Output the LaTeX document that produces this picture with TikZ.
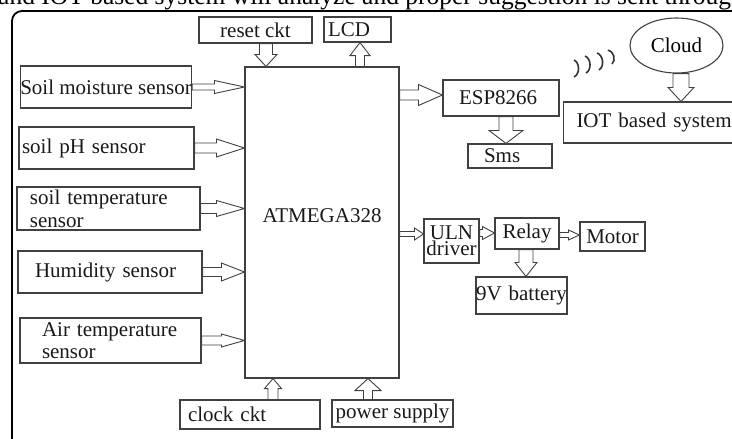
\documentclass[tikz,border=0pt]{standalone}
\usepackage{fontspec}
\setmainfont{Liberation Serif}
\usepackage{tikz}
\usetikzlibrary{positioning,calc,shapes.geometric}

% hollow block arrow: from, to, shaft half width, head half width, head length
\newcommand{\blk}[5]{%
  \coordinate (bs) at (#1); \coordinate (bt) at (#2);
  \coordinate (bh) at ($(bt)!#5pt!(bs)$);
  \draw[arr] ($(bs)!#3pt!90:(bt)$) -- ($(bh)!#3pt!-90:(bs)$) -- ($(bh)!#4pt!-90:(bs)$)
    -- (bt) -- ($(bh)!#4pt!90:(bs)$) -- ($(bh)!#3pt!90:(bs)$) -- ($(bs)!#3pt!-90:(bt)$) -- cycle;}

\begin{document}
\begin{tikzpicture}[x=1pt,y=-1pt,every node/.style={font=\fontsize{21}{22}\selectfont}]
      \tikzstyle{b}=[rectangle,draw=black!75,line width=1.1pt,inner sep=0pt,text=black!90];
      \tikzstyle{arr}=[draw=black!75,line width=0.9pt,fill=white];
      \tikzstyle{wave}=[black!80,line width=1.6pt];
      \path[use as bounding box,clip] (0,0) rectangle (732,439);
      % cut-off caption line and frame
      \node[anchor=base west,inner sep=0pt,font=\fontsize{25.5}{26}\selectfont] (cap) at (-2,5)
        {and IOT based system will analyze and proper suggestion is sent through};
      \draw[line width=1.8pt,rounded corners=10pt] (760,11) -- (12,11) -- (12,449) -- (760,449);
      % controller and its inputs
      \node[b,minimum width=154pt,minimum height=311pt] (mcu) at (322,222.5) {\raisebox{14pt}{ATMEGA328}};
      \node[b,minimum width=113pt,minimum height=26pt] (reset) at (255.5,30) {reset ckt};
      \node[b,minimum height=25pt,text width=59pt,inner xsep=4pt,align=left] (lcd) at (357.5,29.5) {LCD};
      \node[b,minimum width=166pt,minimum height=42pt] (smoist) at (106,87) {Soil moisture sensor};
      \node[b,minimum height=42pt,text width=169pt,inner xsep=3pt,align=left] (sph) at (106.5,148) {soil pH sensor};
      \node[b,minimum height=43pt,text width=157pt,inner xsep=13pt,align=left,
            font=\fontsize{21}{23}\selectfont] (stemp) at (108.5,208.5) {soil temperature\\sensor};
      \node[b,minimum height=42pt,text width=150pt,inner xsep=17pt,align=left] (humid) at (110,272) {Humidity sensor};
      \node[b,minimum height=45pt,text width=137pt,inner xsep=22pt,align=left,
            font=\fontsize{21}{22}\selectfont] (airt) at (110.5,340.5) {Air temperature\\sensor};
      \node[b,minimum height=29pt,text width=124pt,inner xsep=8pt,align=left] (clock) at (250,414.5) {clock ckt};
      \node[b,minimum width=121pt,minimum height=27pt] (power) at (392.5,413.5) {power supply};
      % outputs
      \node[b,minimum height=36pt,text width=84pt,inner xsep=16pt,align=left] (esp) at (501,98) {ESP8266};
      \node[b,minimum height=24pt,text width=52pt,inner xsep=16pt,align=left] (sms) at (510,156) {Sms};
      \node[ellipse,draw=black!75,line width=1.1pt,minimum width=93pt,minimum height=55pt,inner sep=0pt] (cloud) at (676.5,45.5) {Cloud};
      \node[b,minimum height=41pt,text width=145pt,inner xsep=13pt,align=left] (iot) at (649,122.5) {\mbox{IOT based system}};
      \node[b,minimum height=44pt,text width=55pt,align=center,
            font=\fontsize{21}{16}\selectfont] (uln) at (451.5,241) {ULN\\driver};
      \node[b,minimum width=64pt,minimum height=31pt] (relay) at (527,233.5) {Relay};
      \node[b,minimum width=65pt,minimum height=29pt] (motor) at (612.5,236.5) {Motor};
      \node[b,minimum height=37pt,text width=91pt,align=left] (batt) at (521.5,295.5) {9V battery};
      % wireless waves
      \draw[wave] (574,60) to[bend left=65] (574,77);
      \draw[wave] (585,56) to[bend left=65] (586,73);
      \draw[wave] (597,53) to[bend left=65] (599,70);
      \draw[wave] (608,50) to[bend left=65] (612,64);
      % block arrows
      \blk{smoist.east}{smoist.east -| mcu.west}{3}{6.5}{30}
      \blk{sph.east}{sph.east -| mcu.west}{5}{9}{28}
      \blk{stemp.east}{stemp.east -| mcu.west}{5}{8}{28}
      \blk{humid.east}{humid.east -| mcu.west}{4.5}{9}{23}
      \blk{airt.east}{airt.east -| mcu.west}{4.5}{6.5}{23}
      \coordinate (rs) at ([xshift=10.5pt]reset.south);
      \blk{rs}{rs |- mcu.north}{6.5}{11}{12}
      \coordinate (ls) at ([xshift=2.5pt]lcd.south);
      \blk{ls |- mcu.north}{ls}{4.5}{10}{13}
      \coordinate (cn) at ([xshift=23pt]clock.north);
      \blk{cn}{cn |- mcu.south}{5}{8.5}{10}
      \coordinate (pn) at ([xshift=-24.5pt]power.north);
      \blk{pn}{pn |- mcu.south}{4.5}{13}{12}
      \coordinate (ew) at ([yshift=3pt]esp.west);
      \blk{ew -| mcu.east}{ew}{5}{10.5}{24}
      \coordinate (es) at ([xshift=5pt]esp.south);
      \blk{es}{es |- sms.north}{7}{17}{13}
      \coordinate (cs) at ([xshift=4.5pt]cloud.south);
      \blk{cs}{cs |- iot.north}{8}{13}{14}
      \coordinate (uw) at ([yshift=7pt]uln.west);
      \blk{uw -| mcu.east}{uw}{2.5}{6}{9}
      \coordinate (ue) at ([yshift=8pt]uln.east);
      \blk{ue}{ue -| relay.west}{3.5}{6.5}{12}
      \coordinate (re) at ([yshift=-1.5pt]relay.east);
      \blk{re}{re -| motor.west}{2.5}{5}{11}
      \coordinate (rb) at ([xshift=-1pt]relay.south);
      \blk{rb}{rb |- batt.north}{7}{11}{14}
    \end{tikzpicture}
\end{document}
